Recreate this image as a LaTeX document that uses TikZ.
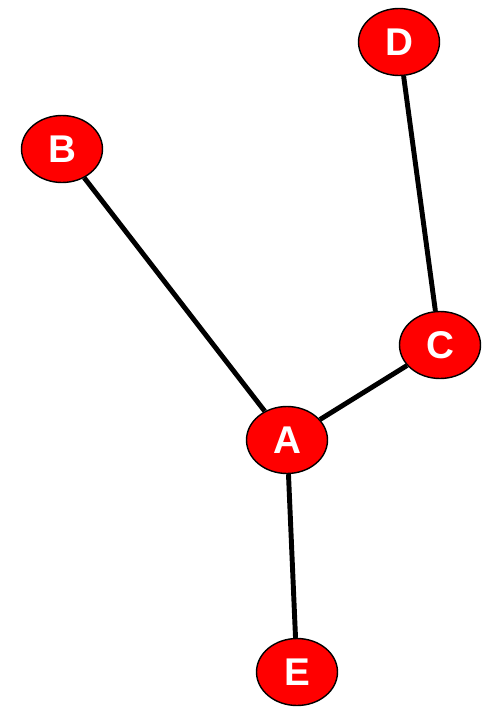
\documentclass[tikz,border=0pt]{standalone}
\usepackage{fontspec}
\setmainfont{Liberation Sans}
\usetikzlibrary{shapes.geometric}
\definecolor{nodered}{HTML}{FF0000}
\tikzset{
  vertex/.style={ellipse, draw=black, line width=0.8pt, fill=nodered, text=white,
    minimum width=1.62cm, minimum height=1.34cm, inner sep=0pt,
    font=\fontsize{22}{24}\selectfont\bfseries},
  edge/.style={draw=black, line width=2.8pt},
}
\begin{document}
\begin{tikzpicture}[x=0.02cm, y=-0.02cm]
  \useasboundingbox (0,0) rectangle (485,707);
  \node[vertex] (D) at (399,42) {D};
  \node[vertex] (B) at (62,149) {B};
  \node[vertex] (C) at (440,345) {C};
  \node[vertex] (A) at (287,440) {A};
  \node[vertex] (E) at (297,672) {E};
  \foreach \f/\t in {B/A, D/C, C/A, A/E}
    \draw[edge] (\f) -- (\t);
\end{tikzpicture}
\end{document}
